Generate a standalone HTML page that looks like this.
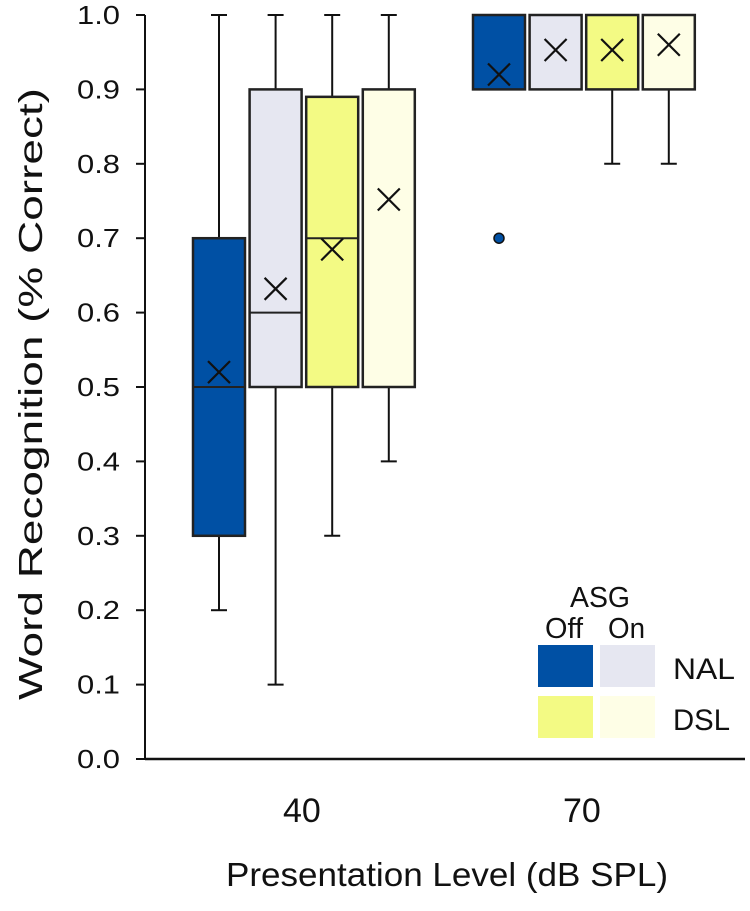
<!DOCTYPE html>
<html><head><meta charset="utf-8"><style>
body{margin:0;background:#fff;}
svg text{font-family:"Liberation Sans",sans-serif;fill:#111;}
</style></head><body>
<svg id="chart" width="750" height="906" viewBox="0 0 750 906" xmlns="http://www.w3.org/2000/svg">
<g id="g"></g>
</svg>
<script>
const yTicks=["0.0","0.1","0.2","0.3","0.4","0.5","0.6","0.7","0.8","0.9","1.0"];
const levels=["40","70"];
const seriesNames=["NAL ASG Off","NAL ASG On","DSL ASG Off","DSL ASG On"];
const mins=[[0.2,0.1,0.3,0.4],[0.9,0.9,0.8,0.8]];
const q1s=[[0.3,0.5,0.5,0.5],[0.9,0.9,0.9,0.9]];
const medians=[[0.5,0.6,0.7,0.5],[1.0,1.0,1.0,1.0]];
const q3s=[[0.7,0.9,0.89,0.9],[1.0,1.0,1.0,1.0]];
const maxs=[[1.0,1.0,1.0,1.0],[1.0,1.0,1.0,1.0]];
const means=[[0.52,0.632,0.685,0.752],[0.92,0.953,0.953,0.96]];
const outlierLevel=[1];
const outlierSeries=[0];
const outlierValues=[0.7];
const colors=["#0050a4","#e6e7f1","#f3fa84","#fefee6"];

const NS="http://www.w3.org/2000/svg";
const g=document.getElementById('g');
const y0=759,y1=15,axX=145;
const Y=v=>y0-(y0-y1)*v;
const groupLeft=[193,473],bw=52,gap=4.6;
const X=(li,si)=>groupLeft[li]+si*(bw+gap);
function mk(t,a){const e=document.createElementNS(NS,t);for(const k in a)e.setAttribute(k,a[k]);g.appendChild(e);return e;}

let e=mk('line',{x1:axX,y1:y1,x2:axX,y2:y0,stroke:'#111','stroke-width':2});


e=mk('line',{x1:axX,y1:y0,x2:745,y2:y0,stroke:'#111','stroke-width':2.5});


yTicks.forEach((t,i)=>{
  const v=parseFloat(t);
  let l=mk('line',{x1:136,y1:Y(v),x2:axX,y2:Y(v),stroke:'#111','stroke-width':2});
  
  
  let tx=mk('text',{x:77,y:Y(v)+9,'font-size':26,textLength:43,lengthAdjust:'spacingAndGlyphs'});
  tx.textContent=t;
  
  
});
levels.forEach((lv,li)=>{
  const cx=X(li,0)+(4*bw+3*gap)/2;
  let tx=mk('text',{x:cx-2,y:822,'font-size':34,'text-anchor':'middle'});
  tx.textContent=lv;
  
  
});
let t=mk('text',{x:226,y:886,'font-size':33,textLength:442,lengthAdjust:'spacingAndGlyphs'});
t.textContent="Presentation Level (dB SPL)";


t=mk('text',{x:-700,y:42,'font-size':33,transform:'rotate(-90)',textLength:612,lengthAdjust:'spacingAndGlyphs'});
t.textContent="Word Recognition (% Correct)";



levels.forEach((lv,li)=>{
  seriesNames.forEach((sn,si)=>{
    const x=X(li,si),cx=x+bw/2;
    if(maxs[li][si]>q3s[li][si]){
      let w=mk('line',{x1:cx,y1:Y(q3s[li][si]),x2:cx,y2:Y(maxs[li][si]),stroke:'#111','stroke-width':2});
      
      
      let c=mk('line',{x1:cx-8,y1:Y(maxs[li][si]),x2:cx+8,y2:Y(maxs[li][si]),stroke:'#111','stroke-width':2});
      
      
    }
    if(mins[li][si]<q1s[li][si]){
      let w=mk('line',{x1:cx,y1:Y(mins[li][si]),x2:cx,y2:Y(q1s[li][si]),stroke:'#111','stroke-width':2});
      
      
      let c=mk('line',{x1:cx-8,y1:Y(mins[li][si]),x2:cx+8,y2:Y(mins[li][si]),stroke:'#111','stroke-width':2});
      
      
    }
    let r=mk('rect',{x:x,y:Y(q3s[li][si]),width:bw,height:Y(q1s[li][si])-Y(q3s[li][si]),fill:colors[si],stroke:'#222','stroke-width':2.5});
    
    
    let m=mk('line',{x1:x,y1:Y(medians[li][si]),x2:x+bw,y2:Y(medians[li][si]),stroke:'#222','stroke-width':2});
    
    
    const my=Y(means[li][si]),s=11;
    let p=mk('path',{d:`M${cx-s} ${my-s}L${cx+s} ${my+s}M${cx-s} ${my+s}L${cx+s} ${my-s}`,stroke:'#111','stroke-width':2.2,fill:'none'});
    
    
  });
});
outlierValues.forEach((v,i)=>{
  const cx=X(outlierLevel[i],outlierSeries[i])+bw/2;
  let c=mk('circle',{cx:cx,cy:Y(v),r:5,fill:colors[outlierSeries[i]],stroke:'#111','stroke-width':1.5});
  
  
});

const lg=[[538,645,0],[600,645,1],[538,696,2],[600,696,3]];
lg.forEach(a=>{
  let r=mk('rect',{x:a[0],y:a[1],width:55,height:42,fill:colors[a[2]]});
  
  
});
[["ASG",570,607,29,60],["Off",545,638,29,38],["On",608,638,29,37],["NAL",673,679,30,62],["DSL",673,730,30,57]].forEach(a=>{
  let tx=mk('text',{x:a[1],y:a[2],'font-size':a[3],textLength:a[4],lengthAdjust:'spacingAndGlyphs'});
  tx.textContent=a[0];
  
  
});
</script>
</body></html>
